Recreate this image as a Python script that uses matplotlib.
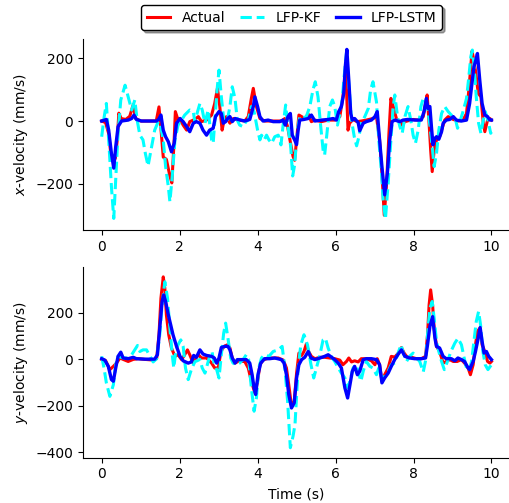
import matplotlib
matplotlib.use("Agg")
import matplotlib.pyplot as plt

# x-velocity (time in s, velocity in mm/s)
tx_actual = [0, 0.1, 0.18, 0.23, 0.30, 0.35, 0.40, 0.44, 0.50, 0.62, 0.72, 0.81, 0.87, 1.0, 1.40, 1.47,
             1.53, 1.58, 1.66, 1.75, 1.80, 1.86, 1.89, 1.96, 2.01, 2.09, 2.18, 2.26, 2.39, 2.48, 2.56,
             2.69, 2.82, 2.90, 2.97, 3.03, 3.09, 3.14, 3.20, 3.29, 3.38, 3.50, 3.67, 3.76, 3.84, 3.89,
             3.97, 4.06, 4.18, 4.61, 4.70, 4.77, 4.83, 4.91, 4.95, 5.0, 5.06, 5.13, 5.21, 5.30, 5.38,
             5.47, 5.64, 5.81, 5.98, 6.11, 6.19, 6.26, 6.32, 6.36, 6.45, 6.55, 6.66, 6.79, 6.96, 7.05,
             7.13, 7.19, 7.25, 7.31, 7.37, 7.42, 7.48, 7.56, 7.65, 7.69, 7.78, 7.99, 8.12, 8.25, 8.31,
             8.35, 8.40, 8.44, 8.48, 8.53, 8.59, 8.67, 8.72, 8.80, 8.89, 9.02, 9.14, 9.27, 9.36, 9.42,
             9.47, 9.50, 9.55, 9.60, 9.66, 9.73, 9.79, 9.83, 9.90, 9.96, 10.0]
vx_actual = [0, -5, -40, -100, -130, -118, -60, 25, 8, 5, 15, 52, 8, 0, 0, 45,
             -39, -115, -122, -175, -197, -60, 30, 3, 8, -13, -29, -2, 5, 14, -2,
             3, 19, 56, 104, 46, -29, 3, 14, -7, 8, 3, 0, 14, 72, 104,
             46, 8, 0, 0, 8, -18, -60, -113, -125, -60, 19, 14, 8, 22, -2,
             3, -2, 3, 3, 14, 77, 170, -29, -7, 5, -2, 0, 3, 8, 14,
             -60, -166, -300, -198, -39, 72, 46, 8, -2, -13, -2, 5, 3, 14, 56,
             83, -7, -92, -161, -92, -60, -50, -29, 3, 14, 5, 0, 3, 24, 99,
             173, 222, 194, 152, 88, 77, -7, -34, 3, 8, 3]

tx_kf = [0, 0.06, 0.12, 0.18, 0.25, 0.31, 0.36, 0.42, 0.49, 0.60, 0.68, 0.77, 0.85, 0.91, 0.98, 1.06,
         1.12, 1.19, 1.28, 1.36, 1.45, 1.50, 1.58, 1.64, 1.71, 1.75, 1.81, 1.88, 1.96, 2.05, 2.13,
         2.26, 2.35, 2.39, 2.46, 2.52, 2.58, 2.65, 2.73, 2.82, 2.86, 2.90, 2.96, 3.01, 3.07, 3.14,
         3.22, 3.29, 3.35, 3.42, 3.48, 3.54, 3.63, 3.70, 3.76, 3.84, 3.91, 4.0, 4.06, 4.10, 4.17,
         4.23, 4.29, 4.36, 4.44, 4.53, 4.60, 4.66, 4.72, 4.78, 4.85, 4.90, 4.95, 5.02, 5.08, 5.17,
         5.25, 5.34, 5.42, 5.48, 5.55, 5.62, 5.68, 5.72, 5.78, 5.85, 5.92, 5.98, 6.05, 6.11, 6.17,
         6.22, 6.28, 6.34, 6.41, 6.48, 6.54, 6.60, 6.66, 6.75, 6.84, 6.90, 6.96, 7.05, 7.11, 7.18,
         7.22, 7.28, 7.35, 7.42, 7.48, 7.52, 7.59, 7.65, 7.71, 7.78, 7.86, 7.93, 7.99, 8.05, 8.12,
         8.19, 8.25, 8.31, 8.36, 8.42, 8.48, 8.53, 8.59, 8.65, 8.72, 8.80, 8.89, 8.97, 9.06, 9.13,
         9.19, 9.27, 9.36, 9.42, 9.47, 9.51, 9.55, 9.61, 9.67, 9.73, 9.79, 9.84, 9.91, 9.98, 10.0]
vx_kf = [-50, 10, 56, -60, -209, -310, -188, -39, 67, 114, 77, 35, 67, 3, -45, -60,
         -103, -143, -82, -29, -2, -10, -60, -145, -209, -257, -177, -60, -13, 3, 19,
         35, 30, -2, 30, 56, 35, -7, 35, -60, -71, -5, 99, 162, 77, -7,
         0, 46, 109, 72, 3, -13, -18, -2, 3, 46, 30, -29, -60, -45, -60,
         -45, -60, -71, -50, -45, -76, -7, 51, -18, -82, -175, -140, -30, 14, 10,
         14, 46, 99, 125, 77, -18, -92, -108, -39, 46, 67, 46, -13, 24, 67,
         141, 215, 120, 3, -50, -79, -50, -7, 14, 40, 99, 125, 61, -60, -166,
         -251, -312, -198, -60, 46, 83, 14, -18, -39, 14, 46, 3, -45, -71, -29,
         46, 72, 72, 40, -13, -82, -145, -103, -29, 24, 46, 30, 19, 14, -23,
         -2, 30, 72, 141, 205, 226, 183, 77, -7, -39, 3, 30, 3, -39, -35]

tx_lstm = [0, 0.12, 0.18, 0.25, 0.31, 0.36, 0.42, 0.51, 0.68, 0.77, 0.83, 0.89, 1.02, 1.41, 1.46, 1.52,
           1.58, 1.64, 1.71, 1.79, 1.86, 1.92, 2.01, 2.09, 2.18, 2.26, 2.35, 2.43, 2.52, 2.60, 2.69,
           2.77, 2.86, 2.92, 3.01, 3.07, 3.12, 3.18, 3.23, 3.29, 3.35, 3.42, 3.50, 3.67, 3.80, 3.89,
           3.93, 4.00, 4.06, 4.14, 4.27, 4.40, 4.57, 4.65, 4.71, 4.78, 4.84, 4.89, 4.95, 5.0, 5.04,
           5.08, 5.19, 5.30, 5.38, 5.47, 5.64, 5.81, 5.94, 6.02, 6.08, 6.15, 6.21, 6.25, 6.29, 6.34,
           6.39, 6.43, 6.49, 6.58, 6.62, 6.71, 6.79, 6.92, 7.01, 7.07, 7.13, 7.19, 7.26, 7.33, 7.39,
           7.45, 7.52, 7.65, 7.73, 7.85, 8.03, 8.20, 8.27, 8.33, 8.37, 8.42, 8.46, 8.50, 8.55, 8.59,
           8.65, 8.72, 8.76, 8.84, 8.93, 9.02, 9.10, 9.23, 9.36, 9.44, 9.50, 9.55, 9.60, 9.64, 9.70,
           9.76, 9.83, 9.90, 9.96, 10.0]
vx_lstm = [0, 5, -29, -103, -150, -82, -18, 0, 3, 8, 19, 5, 0, 0, 5, 19,
           -29, -50, -66, -98, -71, -7, 8, -2, -18, -34, -7, -2, -7, -29, -45,
           -29, -23, 14, 30, 24, -7, -2, 8, 14, -2, 8, 5, 0, 5, 46,
           77, 46, 14, 0, 3, -2, -2, 3, -13, 14, 24, -45, -60, -75, -30,
           3, 5, 8, 19, 0, 3, 5, 8, 3, 30, 46, 88, 173, 228, 130,
           24, 3, 8, -5, -31, -7, -2, 3, 14, 30, -60, -145, -235, -166, -60,
           -2, 3, -2, 3, 5, 3, 3, 30, 72, 40, 46, -18, -76, -55, -50,
           -58, -34, -7, 3, 5, 14, 3, 0, 3, 56, 120, 173, 194, 215, 130,
           56, 19, 14, 3, 3]

# y-velocity
ty_actual = [0, 0.1, 0.21, 0.30, 0.38, 0.47, 0.55, 0.68, 0.81, 0.94, 1.11, 1.32, 1.41, 1.47, 1.52, 1.58,
             1.62, 1.66, 1.72, 1.79, 1.88, 1.96, 2.05, 2.13, 2.20, 2.26, 2.35, 2.43, 2.48, 2.56, 2.69,
             2.73, 2.82, 2.90, 2.99, 3.06, 3.14, 3.23, 3.29, 3.35, 3.42, 3.50, 3.67, 3.76, 3.84, 3.93,
             4.0, 4.06, 4.14, 4.23, 4.36, 4.53, 4.66, 4.74, 4.80, 4.87, 4.94, 5.0, 5.06, 5.13, 5.19,
             5.25, 5.31, 5.38, 5.47, 5.60, 5.72, 5.85, 5.98, 6.11, 6.19, 6.28, 6.34, 6.41, 6.49, 6.58,
             6.66, 6.79, 6.92, 7.01, 7.07, 7.13, 7.19, 7.26, 7.35, 7.43, 7.52, 7.61, 7.69, 7.76, 7.84,
             7.95, 8.08, 8.20, 8.31, 8.36, 8.40, 8.44, 8.49, 8.53, 8.59, 8.67, 8.76, 8.84, 8.93, 9.02,
             9.12, 9.23, 9.31, 9.40, 9.46, 9.53, 9.59, 9.64, 9.70, 9.76, 9.83, 9.90, 9.96, 10.0]
vy_actual = [0, -5, -44, -30, -16, 6, 0, -9, 0, 3, 0, -3, 3, 106, 263, 355,
             306, 191, 106, 49, 13, 20, -1, 20, 41, 20, -16, 9, 20, 6, 6,
             0, -16, -37, -37, 34, 56, 63, 49, 6, -16, -9, -9, -37, -94, -144,
             -94, -23, -3, 3, 6, 6, -3, -37, -109, -201, -180, -60, 27, 17, 34,
             66, 34, 13, 3, 9, 9, 6, 3, -3, -23, -9, 6, -11, -6, -11,
             3, 3, -6, -23, 3, -23, -94, -66, -37, 13, 10, 27, 51, 27, 9,
             9, 3, 3, 13, 106, 234, 299, 234, 134, 56, 34, -16, -9, -1, -9,
             -9, -1, -16, -37, -66, -23, 63, 120, 134, 63, 34, -9, -16, -9]

ty_kf = [0, 0.06, 0.12, 0.21, 0.30, 0.36, 0.42, 0.55, 0.68, 0.77, 0.85, 0.92, 0.98, 1.06, 1.15, 1.24,
         1.32, 1.41, 1.49, 1.55, 1.62, 1.69, 1.75, 1.81, 1.85, 1.90, 1.96, 2.03, 2.09, 2.15, 2.22,
         2.30, 2.39, 2.46, 2.52, 2.58, 2.65, 2.71, 2.77, 2.83, 2.89, 2.95, 3.01, 3.07, 3.13, 3.18,
         3.24, 3.31, 3.37, 3.46, 3.54, 3.63, 3.71, 3.77, 3.84, 3.91, 3.97, 4.03, 4.10, 4.18, 4.29,
         4.40, 4.53, 4.63, 4.70, 4.77, 4.84, 4.91, 4.96, 5.04, 5.11, 5.19, 5.28, 5.37, 5.44, 5.51,
         5.60, 5.68, 5.74, 5.81, 5.90, 5.98, 6.07, 6.15, 6.24, 6.32, 6.39, 6.45, 6.52, 6.58, 6.65,
         6.71, 6.79, 6.88, 6.96, 7.05, 7.11, 7.16, 7.22, 7.28, 7.35, 7.43, 7.52, 7.59, 7.68, 7.74,
         7.82, 7.90, 7.99, 8.08, 8.16, 8.25, 8.31, 8.36, 8.42, 8.48, 8.53, 8.59, 8.65, 8.72, 8.79,
         8.87, 8.96, 9.06, 9.14, 9.23, 9.30, 9.36, 9.42, 9.49, 9.55, 9.61, 9.67, 9.72, 9.78, 9.84,
         9.91, 10.0]
vy_kf = [13, -37, -101, -159, -109, -23, 13, 6, 6, 20, 41, 60, 34, 41, 41, 13,
         -11, 3, 106, 234, 334, 263, 134, 20, -37, 34, 63, 84, 56, -37, -87,
         -44, -10, -5, 0, -37, -59, -23, 13, 34, -23, -44, -80, 20, 113, 156,
         91, 6, -16, -23, -16, 0, 20, 0, -123, -223, -166, -37, 6, 20, 13,
         34, 41, 56, -37, -180, -380, -330, -280, -37, 63, 106, 63, -23, -80, -37,
         20, 84, 91, 49, 9, -9, -37, -59, -80, -123, -80, -37, -23, -51, -94,
         -51, -9, -30, -37, -66, -37, -66, -87, -66, -51, -23, -15, 20, 63, 27,
         -9, 13, 27, 6, -9, -54, -5, 106, 220, 249, 177, 77, 34, -9, -44,
         -9, 34, 70, 91, 63, 6, -37, -51, -9, 77, 163, 206, 149, 34, -23,
         -44, -23]

ty_lstm = [0, 0.08, 0.17, 0.25, 0.30, 0.36, 0.42, 0.49, 0.55, 0.68, 0.81, 0.89, 1.11, 1.36, 1.43, 1.49,
           1.55, 1.59, 1.64, 1.71, 1.77, 1.83, 1.92, 2.01, 2.09, 2.22, 2.30, 2.36, 2.43, 2.52, 2.60,
           2.69, 2.82, 2.89, 2.95, 3.01, 3.07, 3.16, 3.24, 3.29, 3.35, 3.42, 3.48, 3.59, 3.71, 3.80,
           3.86, 3.91, 3.95, 4.01, 4.08, 4.18, 4.31, 4.44, 4.61, 4.68, 4.74, 4.80, 4.87, 4.94, 5.0,
           5.06, 5.13, 5.21, 5.30, 5.37, 5.47, 5.60, 5.72, 5.81, 5.90, 5.98, 6.07, 6.15, 6.24, 6.31,
           6.37, 6.43, 6.49, 6.56, 6.62, 6.71, 6.79, 6.92, 7.05, 7.13, 7.19, 7.26, 7.35, 7.43, 7.52,
           7.61, 7.69, 7.78, 7.90, 8.03, 8.20, 8.31, 8.36, 8.42, 8.49, 8.55, 8.59, 8.67, 8.76, 8.84,
           8.97, 9.06, 9.14, 9.23, 9.31, 9.40, 9.44, 9.53, 9.59, 9.66, 9.71, 9.76, 9.81, 9.87, 9.93,
           10.0]
vy_lstm = [3, -3, -30, -87, -94, -37, 13, 31, 6, 3, 9, 3, 1, 1, 20, 134,
           249, 277, 249, 191, 149, 106, 56, 13, -6, -16, -11, 17, 9, 41, 23,
           17, 13, 6, -16, 6, 51, 56, 56, 41, 6, -16, -1, -1, -1, -16,
           -66, -123, -151, -66, -16, 3, 3, 6, -1, -16, -66, -151, -209, -187, -80,
           -23, -1, 9, 34, 6, -1, 6, 13, 20, 9, -1, -16, -37, -123, -166,
           -109, -51, -30, -66, -51, -1, 3, 3, -1, -23, -101, -80, -59, -30, 0,
           23, 41, 13, 6, 3, 3, 6, 63, 141, 184, 91, 56, 49, 13, 3,
           3, -6, 6, -1, -9, -37, -44, -9, 34, 91, 137, 77, 27, 34, 13,
           -1]

fig = plt.figure(figsize=(5.09, 5.03), dpi=100)
ax1 = fig.add_axes([0.163, 0.5427, 0.837, 0.3797])
ax2 = fig.add_axes([0.163, 0.090, 0.837, 0.379])

panels = [
    (ax1, (tx_actual, vx_actual), (tx_kf, vx_kf), (tx_lstm, vx_lstm), '$x$-velocity (mm/s)'),
    (ax2, (ty_actual, vy_actual), (ty_kf, vy_kf), (ty_lstm, vy_lstm), '$y$-velocity (mm/s)'),
]
for ax, act, kf, lstm, ylab in panels:
    ax.plot(*act, color='red', lw=2.2, label='Actual')
    ax.plot(*kf, color='cyan', lw=2.2, ls='--', label='LFP-KF')
    ax.plot(*lstm, color='blue', lw=2.4, label='LFP-LSTM')
    ax.set_ylabel(ylab, fontsize=10)
    ax.set_xlim(-0.48, 10.45)
    ax.set_xticks([0, 2, 4, 6, 8, 10])
    ax.spines['top'].set_visible(False)
    ax.spines['right'].set_visible(False)
    ax.tick_params(labelsize=10)

ax1.set_ylim(-347, 261)
ax1.set_yticks([-200, 0, 200])
ax2.set_ylim(-423, 397)
ax2.set_yticks([-400, -200, 0, 200])
ax2.set_xlabel('Time (s)', fontsize=10)

ax1.legend(loc='lower center', bbox_to_anchor=(0.49, 1.025), ncol=3, shadow=True,
           fontsize=10, borderaxespad=0.3, edgecolor='black', framealpha=1,
           handlelength=1.7, columnspacing=1.1, handletextpad=0.8,
           borderpad=0.4)

fig.savefig('out.png', dpi=100)
